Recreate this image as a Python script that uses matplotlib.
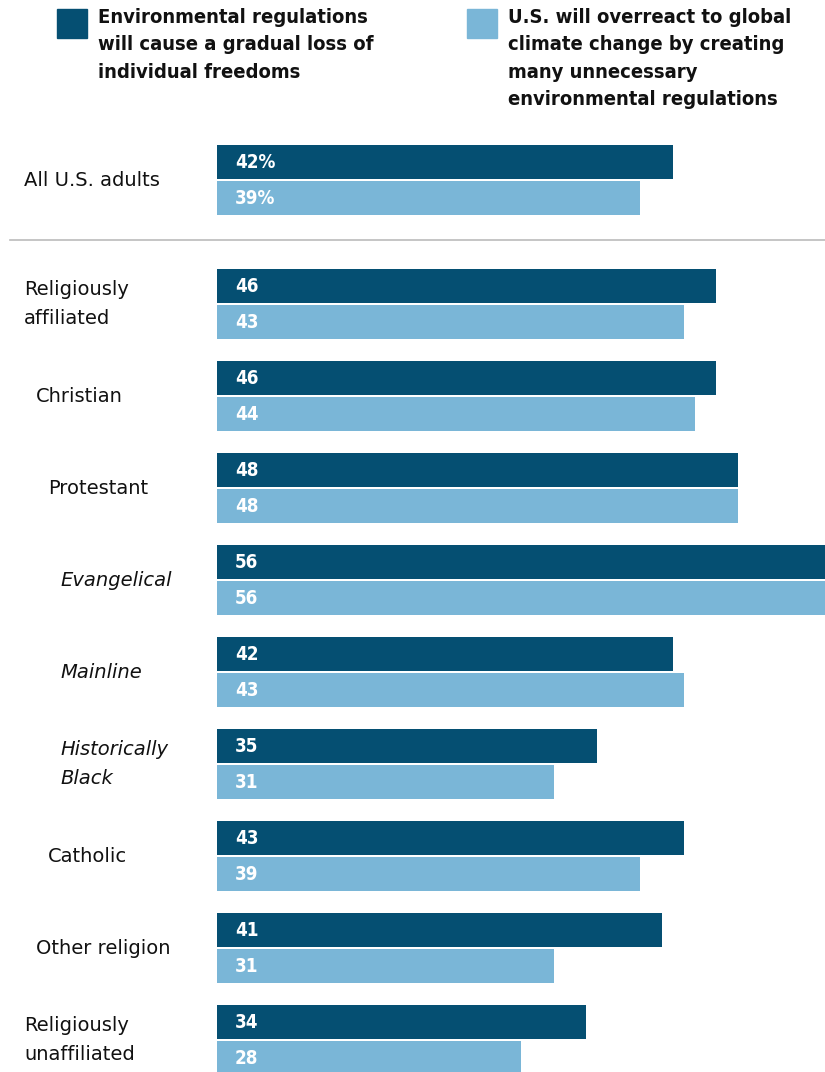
import matplotlib.pyplot as plt

categories = ["All U.S. adults", "Religiously\naffiliated", "Christian", "Protestant",
              "Evangelical", "Mainline", "Historically\nBlack", "Catholic",
              "Other religion", "Religiously\nunaffiliated"]
freedoms = [42, 46, 46, 48, 56, 42, 35, 43, 41, 34]
overreact = [39, 43, 44, 48, 56, 43, 31, 39, 31, 28]
indent = [0, 0, 1, 2, 3, 3, 3, 2, 1, 0]
italic = [False, False, False, False, True, True, True, False, False, False]

dark = "#054f72"
light = "#7ab6d7"
W, H = 825, 1072

fig = plt.figure(figsize=(W / 100, H / 100), dpi=100)
ax = fig.add_axes([217 / W, 0, (W - 217) / W, 1])
ax.set_xlim(0, 56)
ax.set_ylim(H, 0)
ax.axis("off")

centers = [180] + [304 + 92 * i for i in range(len(categories) - 1)]

for i, (c, a, b) in enumerate(zip(centers, freedoms, overreact)):
    ax.barh(c - 18, a, height=34, color=dark, left=0)
    ax.barh(c + 18, b, height=34, color=light, left=0)
    sa = f"{a}%" if i == 0 else str(a)
    sb = f"{b}%" if i == 0 else str(b)
    ax.text(1.65, c - 18, sa, color="white", fontsize=13.5, fontweight="bold",
            fontstretch="condensed", va="center", ha="left")
    ax.text(1.65, c + 18, sb, color="white", fontsize=13.5, fontweight="bold",
            fontstretch="condensed", va="center", ha="left")
    fig.text((24 + 12 * indent[i]) / W, 1 - c / H, categories[i], fontsize=14,
             va="center", ha="left", style="italic" if italic[i] else "normal",
             linespacing=1.65, color="#111111")

# separator
fig.add_artist(plt.Line2D([10 / W, 1], [1 - 240 / H, 1 - 240 / H], color="#bbbbbb", lw=1.2))

# legend
fig.patches.append(plt.Rectangle((57 / W, 1 - 38 / H), 30 / W, 29 / H,
                                 transform=fig.transFigure, color=dark))
fig.patches.append(plt.Rectangle((467 / W, 1 - 38 / H), 30 / W, 29 / H,
                                 transform=fig.transFigure, color=light))
fig.text(98 / W, 1 - 8 / H,
         "Environmental regulations\nwill cause a gradual loss of\nindividual freedoms",
         fontsize=14.5, fontweight="bold", fontstretch="condensed", va="top", ha="left",
         linespacing=1.55, color="#111111")
fig.text(508 / W, 1 - 8 / H,
         "U.S. will overreact to global\nclimate change by creating\nmany unnecessary\nenvironmental regulations",
         fontsize=14.5, fontweight="bold", fontstretch="condensed", va="top", ha="left",
         linespacing=1.55, color="#111111")

fig.savefig("out.png", dpi=100)
